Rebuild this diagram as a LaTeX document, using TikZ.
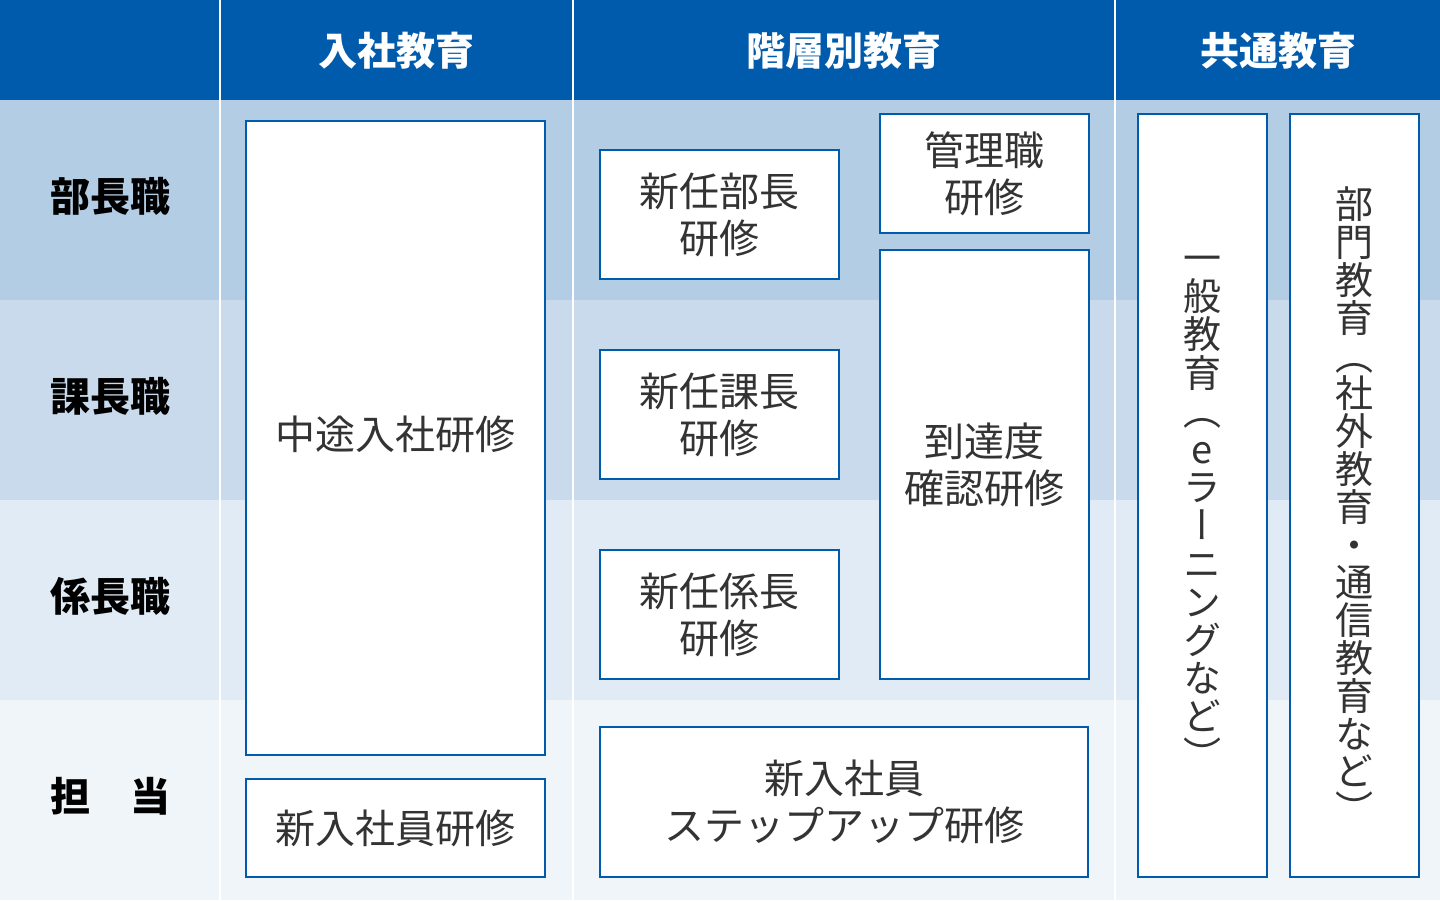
\documentclass[tikz,border=0pt]{standalone}
\usepackage{fontspec}
\setmainfont{Noto Sans CJK JP}
\newfontfamily\vertfont[RawFeature=+vert]{Noto Sans CJK JP}
\usetikzlibrary{positioning}

\definecolor{hdrblue}{HTML}{005BAC}
\definecolor{rowA}{HTML}{B3CDE5}
\definecolor{rowB}{HTML}{C8DAEC}
\definecolor{rowC}{HTML}{E0EBF6}
\definecolor{rowD}{HTML}{F0F5FA}
\definecolor{textgray}{HTML}{333333}

\tikzset{
  hdr/.style={text=white,font=\fontsize{39}{39}\selectfont\bfseries,inner sep=0pt},
  rowlabel/.style={text=black,font=\fontsize{40}{40}\selectfont\bfseries,inner sep=0pt},
  course/.style={draw=hdrblue,line width=2pt,fill=white,inner sep=0pt,text=textgray,
    font=\fontsize{40}{47}\selectfont,align=center},
  vtext/.style={inner sep=0pt,text=textgray,align=center,font=\vertfont\fontsize{38}{#1}\selectfont}
}

\begin{document}
\begin{tikzpicture}[x=1pt,y=-1pt]
  \useasboundingbox (0,0) rectangle (1440,900);
  % Backgrounds
  \fill[hdrblue] (0,0) rectangle (1440,100);
  \foreach \y/\c in {100/rowA,300/rowB,500/rowC,700/rowD}
    \fill[\c] (0,\y) rectangle (1440,\y+200);
  \foreach \x in {220,573,1115}
    \fill[white] (\x-1,0) rectangle (\x+1,900);

  % Headers
  \node[hdr] (hNyusha) at (396.5,51) {入社教育};
  \node[hdr] (hKaiso) at (844,51) {階層別教育};
  \node[hdr] (hKyotsu) at (1278,51) {共通教育};

  % Row labels
  \foreach \y/\t/\n in {196/部長職/Bucho,396/課長職/Kacho,596/係長職/Kakari,796/担　当/Tanto}
    \node[rowlabel] (l\n) at (110,\y) {\t};

  % Courses
  \node[course,minimum width=299,minimum height=634] (chuto) at (395.5,438) {};
  \node[inner sep=0pt,text=textgray,font=\fontsize{40}{47}\selectfont] (chutoText)
    at ([yshift=4pt]chuto.center) {中途入社研修};
  \node[course,minimum width=299,minimum height=98] (shinnyu) at (395.5,828) {新入社員研修};
  \node[course,minimum width=239,minimum height=129] (shinBucho) at (719.5,214.5) {新任部長\\研修};
  \node[course,minimum width=239,minimum height=129] (shinKacho) at (719.5,414.5) {新任課長\\研修};
  \node[course,minimum width=239,minimum height=129] (shinKakari) at (719.5,614.5) {新任係長\\研修};
  \node[course,minimum width=209,minimum height=119] (kanri) at (984.5,173.5) {管理職\\研修};
  \node[course,minimum width=209,minimum height=429] (totatsu) at (984.5,464.5) {到達度\\確認研修};
  \node[course,minimum width=488,minimum height=150] (stepup) at (844,802) {新入社員\\ステップアップ研修};

  % Vertical text columns
  \node[course,minimum width=129,minimum height=763] (ippan) at (1202.5,495.5) {};
  \node[vtext=38.2] (ippanText) at ([yshift=-17pt]ippan.center)
    {一\\般\\教\\育\\（\\e\\ラ\\ー\\ニ\\ン\\グ\\な\\ど\\）};
  \node[course,minimum width=129,minimum height=763] (bumon) at (1354.5,495.5) {};
  \node[vtext=37.8] (bumonText) at ([yshift=-10pt]bumon.center)
    {部\\門\\教\\育\\（\\社\\外\\教\\育\\・\\通\\信\\教\\育\\な\\ど\\）};
\end{tikzpicture}
\end{document}
